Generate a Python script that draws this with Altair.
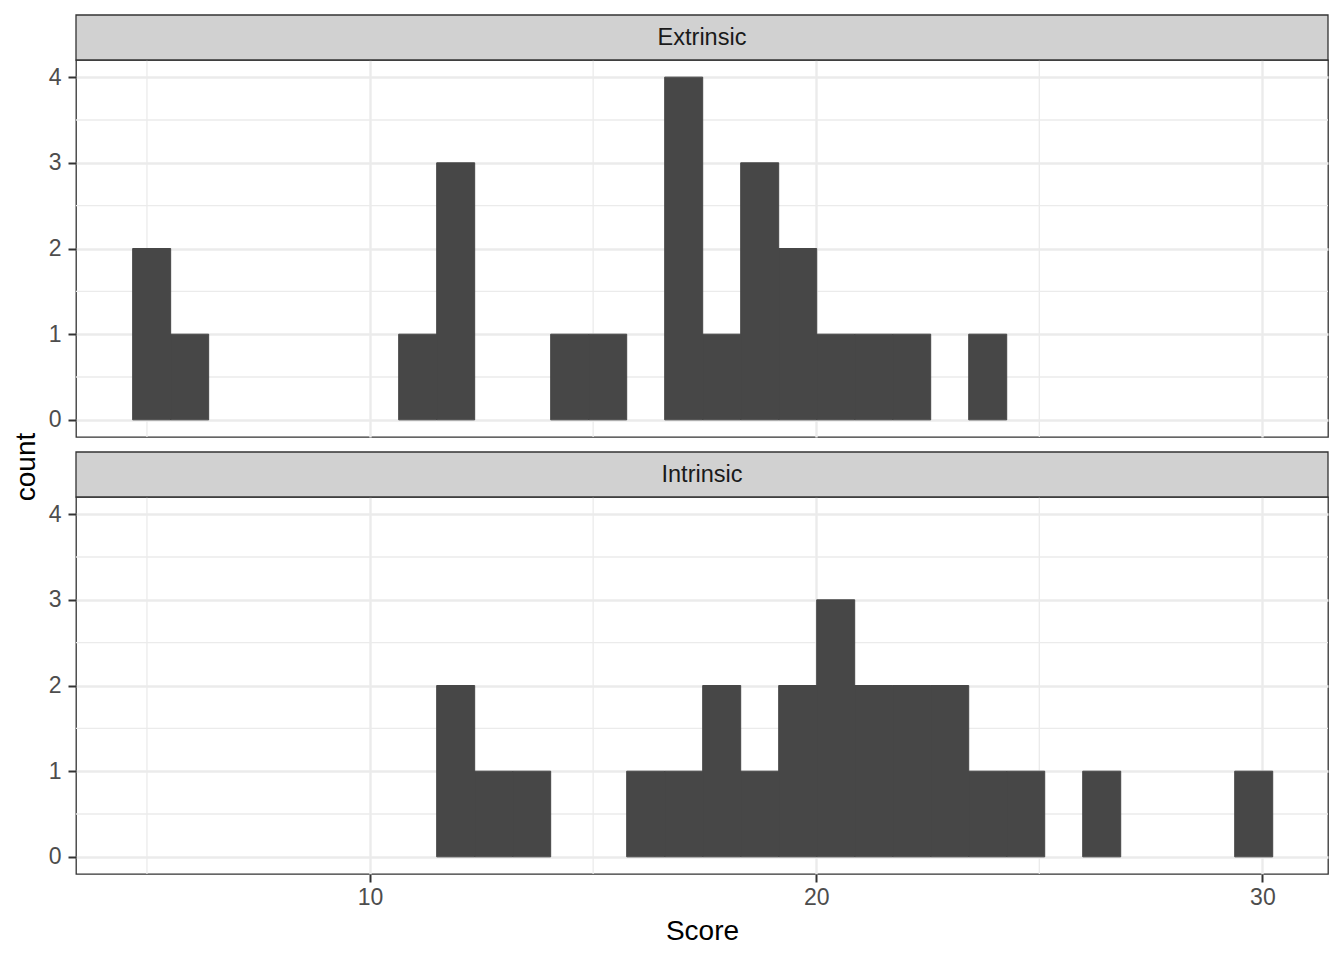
import altair as alt
import pandas as pd

FONT = "Liberation Sans"

# Facet labels
panels = ["Extrinsic", "Intrinsic"]

# Histogram counts per bin (30 bins)
extrinsic_counts = [2, 1, 0, 0, 0, 0, 0, 1, 3, 0, 0, 1, 1, 0, 4,
                    1, 3, 2, 1, 1, 1, 0, 1, 0, 0, 0, 0, 0, 0, 0]
intrinsic_counts = [0, 0, 0, 0, 0, 0, 0, 0, 2, 1, 1, 0, 0, 1, 1,
                    2, 1, 2, 3, 2, 2, 2, 1, 1, 0, 1, 0, 0, 0, 1]

# Binning scheme
bin_first_edge = 4.68
bin_width = 0.8517

# Axis ticks and grid
x_ticks = [10, 20, 30]
x_minor = [5, 15, 25]
y_ticks = [0, 1, 2, 3, 4]
y_minor = [0.5, 1.5, 2.5, 3.5]

W = 1252
SH = 45
PH = 377
GAP = 15
TW = 37

GRID = "#EBEBEB"
DARK = "#333333"
BAR = "#474747"


def bins_df(counts):
    rows = []
    for i, c in enumerate(counts):
        if c > 0:
            rows.append({
                "x0": bin_first_edge + i * bin_width,
                "x1": bin_first_edge + (i + 1) * bin_width,
                "count": c,
                "zero": 0,
            })
    return pd.DataFrame(rows)


xscale = alt.Scale(domain=[3.41, 31.47], nice=False, zero=False)
yscale = alt.Scale(domain=[-0.2, 4.2], nice=False, zero=False)


def panel(label, counts, bottom):
    df = bins_df(counts)
    xaxis = alt.Axis(
        values=x_ticks, grid=True, gridColor=GRID, gridWidth=2.4, domain=False,
        labels=bottom, ticks=bottom, tickColor=DARK, tickSize=8, tickWidth=2,
        labelFont=FONT, labelFontSize=23, labelColor="#4D4D4D", labelPadding=4,
        titleFont=FONT, titleFontSize=28, titleColor="black",
        titleFontWeight="normal", titlePadding=8,
    )
    yaxis = alt.Axis(
        values=y_ticks, grid=True, gridColor=GRID, gridWidth=2.4, domain=False,
        tickColor=DARK, tickSize=8, tickWidth=2,
        labelFont=FONT, labelFontSize=23, labelColor="#4D4D4D", labelPadding=7,
    )
    xtitle = "Score" if bottom else None

    vminor = alt.Chart(pd.DataFrame({"v": x_minor})).mark_rule(
        color=GRID, strokeWidth=1.3
    ).encode(x=alt.X("v:Q", scale=xscale, axis=xaxis, title=xtitle))
    hminor = alt.Chart(pd.DataFrame({"h": y_minor})).mark_rule(
        color=GRID, strokeWidth=1.3
    ).encode(y=alt.Y("h:Q", scale=yscale, axis=yaxis, title=None))
    bars = alt.Chart(df).mark_rect(fill=BAR, stroke=BAR, strokeWidth=1).encode(
        x=alt.X("x0:Q", scale=xscale, axis=xaxis, title=xtitle),
        x2="x1:Q",
        y=alt.Y("count:Q", scale=yscale, axis=yaxis, title=None),
        y2="zero:Q",
    )
    sdata = alt.Data(values=[{"label": label}])
    sbox = alt.Chart(sdata).mark_rect(
        fill="#D1D1D1", stroke=DARK, strokeWidth=1.3
    ).encode(
        x=alt.value(0), x2=alt.value(W), y=alt.value(-SH), y2=alt.value(0)
    )
    stxt = alt.Chart(sdata).mark_text(
        font=FONT, fontSize=23.5, color="#1A1A1A", baseline="middle", align="center"
    ).encode(
        x=alt.value(W / 2), y=alt.value(-SH / 2), text="label:N"
    )
    return alt.layer(vminor, hminor, bars, sbox, stxt).properties(
        width=W, height=PH,
        view=alt.ViewBackground(fill="white", stroke=DARK, strokeWidth=1.3),
    )


span_h = PH + GAP + SH + PH
ytitle = alt.Chart(alt.Data(values=[{"t": "count"}])).mark_text(
    font=FONT, fontSize=28, color="black", angle=270,
    baseline="middle", align="center"
).encode(
    x=alt.value(18), y=alt.value(span_h / 2), text="t:N"
).properties(
    width=TW, height=span_h,
    view=alt.ViewBackground(fill="transparent", stroke="transparent"),
)

panels_col = alt.vconcat(
    panel(panels[0], extrinsic_counts, False),
    panel(panels[1], intrinsic_counts, True),
    spacing=GAP - 4,
)

chart = alt.hconcat(ytitle, panels_col, spacing=0).properties(
    padding={"left": 0, "top": 5, "right": 5, "bottom": 5},
    background="white",
).configure(font=FONT).configure_view(stroke=DARK, strokeWidth=1.3)

chart.save("out.html", embed_options={"renderer": "svg", "actions": False})
